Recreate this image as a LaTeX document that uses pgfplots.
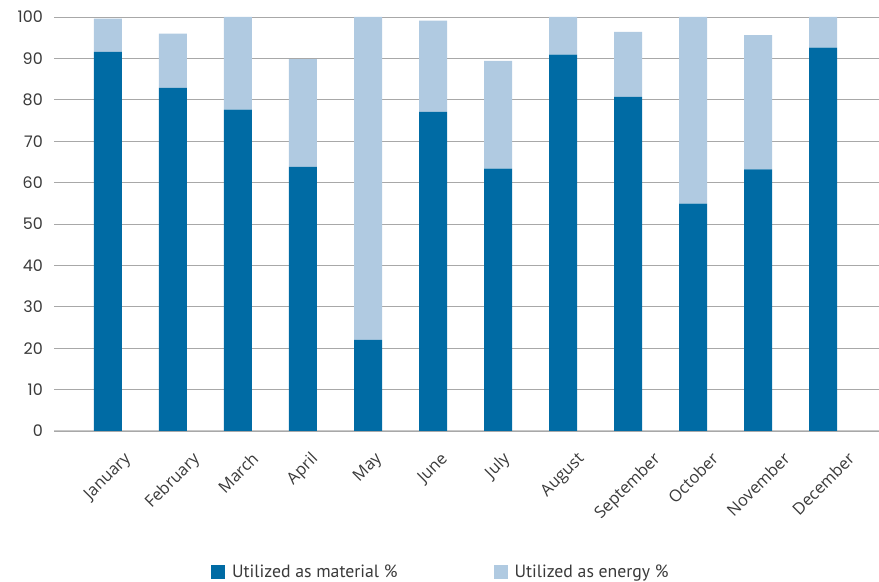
\documentclass[border=0pt]{standalone}
\usepackage{pgfplots}
\pgfplotsset{compat=1.18}
\usepackage{graphicx}
\usepackage{fontspec}
\setmainfont{Open Sans}
\newfontfamily\tickfont{Poppins}
\newfontfamily\legfont{PT Sans}
\definecolor{matc}{HTML}{006BA4}
\definecolor{enc}{HTML}{B0CAE1}
\definecolor{gridc}{HTML}{A8A8A8}
\definecolor{basec}{HTML}{C8C8C8}
\definecolor{txtc}{HTML}{3A3A3A}
\newcommand{\rl}[1]{\rotatebox{45}{#1}}
\begin{document}
\begin{tikzpicture}
\path[use as bounding box] (0,0) rectangle (879bp,582bp);
\begin{axis}[
  at={(54bp,151bp)}, anchor=south west,
  scale only axis, width=825bp, height=414bp,
  ybar stacked, bar width=28bp,
  xmin=-0.83, xmax=11.86, ymin=0, ymax=100,
  xtick={0,...,11},
  xticklabels={\rl{January},\rl{February},\rl{March},\rl{April},\rl{May},\rl{June},\rl{July},\rl{August},\rl{September},\rl{October},\rl{November},\rl{December}},
  ytick={0,10,...,100},
  axis line style={draw=none},
  major tick length=0pt,
  ymajorgrids, grid style={gridc, line width=0.9bp},
  yticklabel style={font=\tickfont\fontsize{16}{16}\selectfont, text=txtc, anchor=east, xshift=-11bp, inner sep=0pt},
  xticklabel style={font=\fontsize{16.5}{16.5}\selectfont, text=txtc, anchor=north, inner sep=0pt, yshift=-20bp},
  /pgf/number format/assume math mode=true,
  legend columns=2,
  legend cell align=left,
  legend style={draw=none, at={(0.469,-0.341)}, anchor=center, font=\legfont\fontsize{17.8}{17.8}\selectfont, text=txtc,
    /tikz/every even column/.append style={column sep=94bp}},
  legend image code/.code={\fill[#1] (0bp,-7bp) rectangle (14bp,7bp); \path (19bp,0bp);},
]
\addplot[fill=matc, draw=none] coordinates {(0,91.6) (1,82.9) (2,77.6) (3,63.8) (4,22.0) (5,77.1) (6,63.4) (7,90.9) (8,80.7) (9,54.9) (10,63.2) (11,92.6)};
\addplot[fill=enc, draw=none] coordinates {(0,8.0) (1,13.1) (2,22.4) (3,26.0) (4,78.0) (5,22.0) (6,26.0) (7,9.1) (8,15.7) (9,45.1) (10,32.4) (11,7.4)};
\draw[basec, line width=1.6bp] (axis cs:-0.83,0) -- (axis cs:11.86,0);
\legend{Utilized as material \%, Utilized as energy \%}
\end{axis}
\end{tikzpicture}
\end{document}
